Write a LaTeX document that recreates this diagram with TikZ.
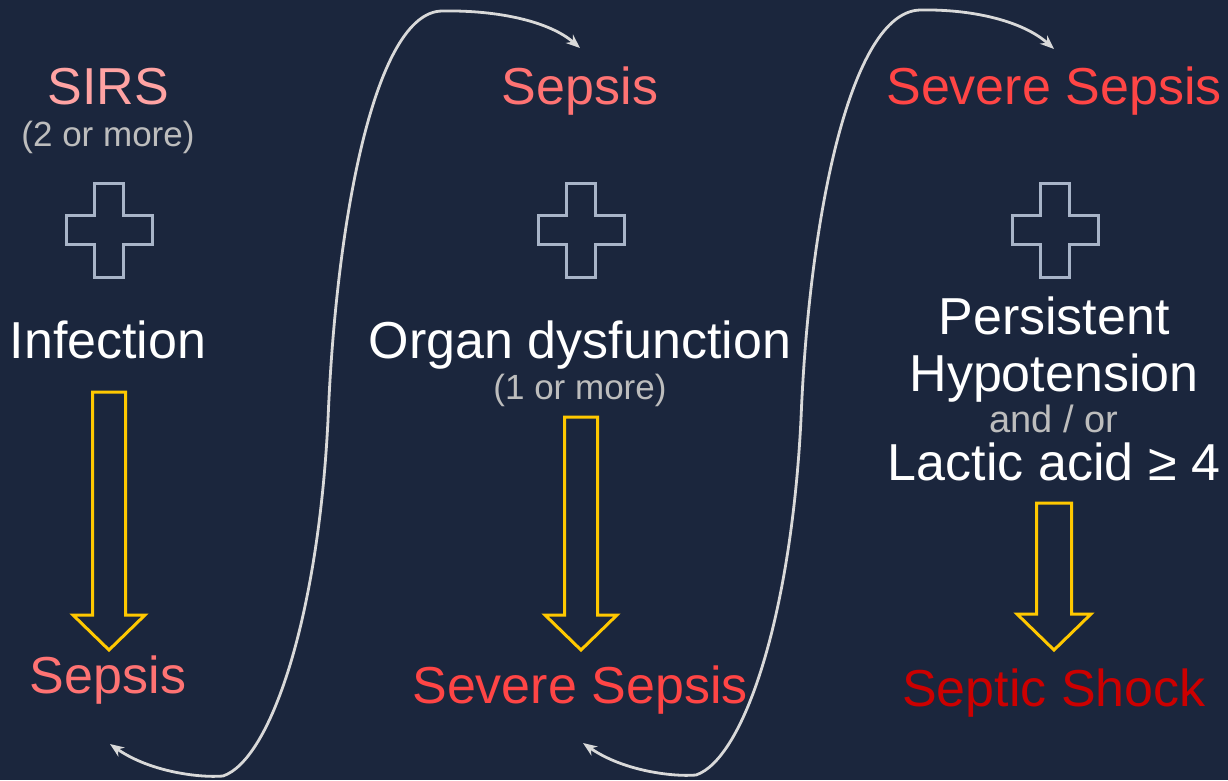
\documentclass[tikz,border=0pt]{standalone}
\usepackage{fontspec}
\setmainfont{Liberation Sans}
\usetikzlibrary{arrows.meta}
\definecolor{bg}{HTML}{1B263D}
\definecolor{sirs}{HTML}{FFA3A3}
\definecolor{sep}{HTML}{FF7373}
\definecolor{sev}{HTML}{FF4545}
\definecolor{shock}{HTML}{CC0000}
\definecolor{note}{HTML}{BDBDBD}
\definecolor{crossc}{HTML}{A8B4C8}
\definecolor{curvec}{HTML}{D9D9D9}
\definecolor{yel}{HTML}{FFC800}
\newcommand\plusmark[2]{%
  \draw[crossline] (#1-14.5,#2-47) -- (#1+14.5,#2-47) -- (#1+14.5,#2-14.5) -- (#1+43,#2-14.5)
   -- (#1+43,#2+14.5) -- (#1+14.5,#2+14.5) -- (#1+14.5,#2+47) -- (#1-14.5,#2+47)
   -- (#1-14.5,#2+14.5) -- (#1-43,#2+14.5) -- (#1-43,#2-14.5) -- (#1-14.5,#2-14.5) -- cycle;}
% x, top y, head start y, tip y, shaft half width, head half width
\newcommand\yarrow[6]{%
  \draw[yline] (#1-#5,#2) -- (#1+#5,#2) -- (#1+#5,#3) -- (#1+#6,#3) -- (#1,#4)
   -- (#1-#6,#3) -- (#1-#5,#3) -- cycle;}
\begin{document}
\begin{tikzpicture}[x=1pt,y=-1pt,
  lbl/.style={inner sep=0pt,anchor=base,font=\fontsize{52}{60}\selectfont},
  small/.style={inner sep=0pt,anchor=base,font=\fontsize{35}{40}\selectfont,text=note},
  crossline/.style={draw=crossc,line width=3pt,line join=miter},
  yline/.style={draw=yel,line width=3pt,line join=miter},
  link/.style={draw=curvec,line width=2.8pt,{Stealth[length=14pt,width=11pt]}-{Stealth[length=14pt,width=11pt]}}]
\fill[bg] (0,0) rectangle (1228,780);
\useasboundingbox (0,0) rectangle (1228,780);
% column 1
\node[lbl,text=sirs] (sirs) at (108,104) {SIRS};
\node[small] (two) at (108,146) {(2 or more)};
\plusmark{109}{230}
\node[lbl,text=white] (inf) at (108,358) {Infection};
\yarrow{109}{392}{615}{650}{16.5}{36}
\node[lbl,text=sep] (sep1) at (108,693) {Sepsis};
% column 2
\node[lbl,text=sep] (sep2) at (580,104) {Sepsis};
\plusmark{581}{230}
\node[lbl,text=white] (org) at (580,358) {Organ dysfunction};
\node[small] (one) at (580,399) {(1 or more)};
\yarrow{581}{417}{615}{650}{16.5}{36}
\node[lbl,text=sev] (sev2) at (580,703) {Severe Sepsis};
% column 3
\node[lbl,text=sev] (sev3) at (1054,104) {Severe Sepsis};
\plusmark{1055}{230}
\node[lbl,text=white] (pers) at (1054,334) {Persistent};
\node[lbl,text=white] (hypo) at (1054,391) {Hypotension};
\node[small,font=\fontsize{38}{44}\selectfont] (andor) at (1054,432) {and / or};
\node[lbl,text=white] (lact) at (1054,480) {Lactic acid ≥ 4};
\yarrow{1054}{503}{614}{650}{17.5}{37}
\node[lbl,text=shock] (shock) at (1054,706) {Septic Shock};
% links
\coordinate (l1a) at (110,744);
\coordinate (l1b) at (580,48);
\coordinate (l2a) at (583,743);
\coordinate (l2b) at (1054,49);
\draw[link] (l1a) .. controls (150,772) and (200,778) .. (223,776)
  .. controls (270,760) and (318,620) .. (328,420)
  .. controls (336,220) and (375,12) .. (442,11)
  .. controls (500,10) and (550,22) .. (l1b);
\draw[link] (l2a) .. controls (623,771) and (673,777) .. (696,775)
  .. controls (743,759) and (791,619) .. (801,419)
  .. controls (809,219) and (850,12) .. (920,10)
  .. controls (975,9) and (1024,22) .. (l2b);
\end{tikzpicture}
\end{document}
